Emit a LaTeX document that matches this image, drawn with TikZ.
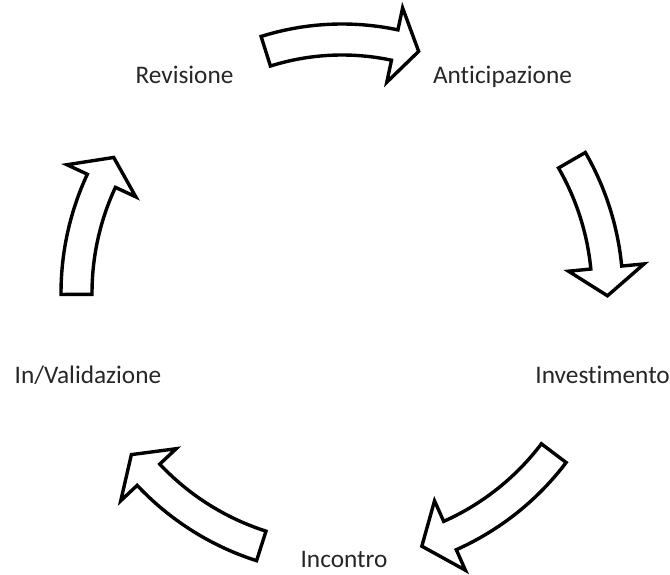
\documentclass[tikz,border=0pt]{standalone}
\usepackage{fontspec}
\setmainfont{Carlito}[Ligatures=NoCommon]
\begin{document}
\begin{tikzpicture}[x=1pt,y=1pt,
  cyclbl/.style={inner sep=0pt, anchor=base, text=black!85, font=\fontsize{25.3}{30}\selectfont},
  blockarrow/.style={draw=black, fill=white, line width=3.4pt, line join=miter, miter limit=6}]
\useasboundingbox (0,0) rectangle (670,574);
% curved block arrow: #1 mid radius, #2 tail angle, #3 head base angle, #4 tip angle
\newcommand{\cycarrow}[4]{%
  \draw[blockarrow, shift={(342pt,281pt)}]
    (#2:{#1+15.5}) arc[start angle=#2, end angle=#3, radius={#1+15.5}]
    -- (#3:{#1+38}) -- (#4:#1) -- (#3:{#1-38}) -- (#3:{#1-15.5})
    arc[start angle=#3, end angle=#2, radius={#1-15.5}] -- cycle;}
\cycarrow{253.5}{107.5}{78}{72.4}
\cycarrow{265.5}{30}{5.5}{-0.6}
\cycarrow{265.5}{-37.1}{-66}{-72.5}
\cycarrow{265.5}{-107.7}{-136.8}{-142.5}
\cycarrow{265.5}{180.3}{155}{149.3}
\node[cyclbl] (rev) at (184.5,490) {Revisione};
\node[cyclbl] (ant) at (502.5,490) {Anticipazione};
\node[cyclbl, anchor=base east] (inv) at (670,190) {Investimento};
\node[cyclbl] (inc) at (344,7) {Incontro};
\node[cyclbl] (val) at (88,190) {In/Validazione};
\end{tikzpicture}
\end{document}
